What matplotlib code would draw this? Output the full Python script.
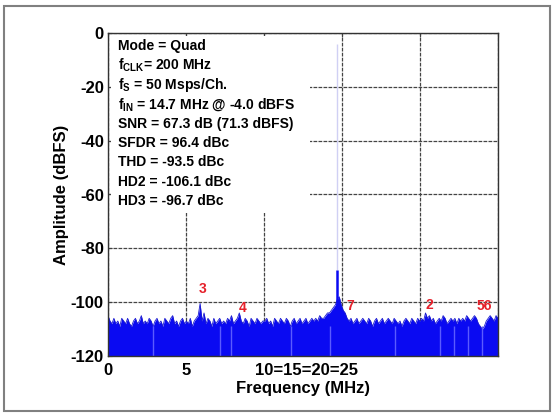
import matplotlib
matplotlib.use('Agg')
import matplotlib.pyplot as plt
import numpy as np
from matplotlib.patches import Rectangle

plt.rcParams['font.family'] = ['Liberation Sans', 'DejaVu Sans']
plt.rcParams['font.weight'] = 'bold'
plt.rcParams['axes.unicode_minus'] = False
plt.rcParams['mathtext.fontset'] = 'custom'
plt.rcParams['mathtext.rm'] = 'Liberation Sans:bold'
plt.rcParams['mathtext.bf'] = 'Liberation Sans:bold'

# noise floor top (dBFS), one value per 0.125 MHz bin
noise_top = [
    -105, -107, -108, -106, -108, -107, -109, -106, -107, -108, -106, -108, -109, -107, -106, -108, -107, -105, -108, -107,
    -108, -106, -107, -109, -107, -106, -108, -107, -109, -106, -107, -108, -106, -105, -108, -107, -109, -107, -106, -108,
    -107, -108, -106, -109, -107, -106, -105, -100.5, -107, -104, -108, -106, -107, -109, -106, -108, -107, -106, -108, -107,
    -108, -106, -107, -105, -108, -107, -106, -104, -107, -108, -106, -107, -109, -106, -107, -108, -106, -107, -108, -107,
    -107, -106, -108, -107, -109, -106, -107, -108, -106, -107, -108, -106, -107, -109, -107, -106, -108, -107, -106, -108,
    -107, -106, -108, -107, -106, -107, -106, -107, -105, -106, -106, -105, -104, -104, -103, -102, -101, -99, -98, -101,
    -103, -104, -106, -107, -106, -108, -107, -106, -108, -107, -106, -107, -108, -106, -107, -109, -107, -106, -108, -107,
    -106, -108, -107, -106, -107, -108, -106, -107, -108, -107, -109, -107, -106, -107, -108, -106, -107, -108, -106, -107,
    -106, -107, -104, -106, -105, -107, -106, -108, -107, -106, -107, -105, -106, -108, -107, -106, -107, -106, -108, -106,
    -107, -106, -107, -105, -106, -107, -106, -105, -106, -108, -109, -110, -109, -107, -106, -105, -106, -107, -105, -106,
]
dip_freqs = [2.9, 7.2, 7.9, 11.7, 14.2, 18.4, 21.3, 22.2, 23.1, 24.0]
dip_level = -109

fund_freq = 14.7
fund_skirt = -88
fund_level = -4

spur_labels = ['3', '4', '7', '2', '56']
spur_x = [6.05, 8.65, 15.5, 20.6, 24.15]
spur_y = [-97.8, -104.8, -104.0, -103.6, -104.0]

info_lines = [
    'Mode = Quad',
    r'f$_{\rm CLK}$= 200 MHz',
    r'f$_{\rm S}$ = 50 Msps/Ch.',
    r'f$_{\rm IN}$ = 14.7 MHz @ -4.0 dBFS',
    'SNR = 67.3 dB (71.3 dBFS)',
    'SFDR = 96.4 dBc',
    'THD = -93.5 dBc',
    'HD2 = -106.1 dBc',
    'HD3 = -96.7 dBc',
]

y_ticks = [0, -20, -40, -60, -80, -100, -120]
x_ticks = [0, 5, 10, 15, 20, 25]
x_ticklabels = ['0', '5', '', '', '', '']

fig = plt.figure(figsize=(5.53, 4.15), dpi=100)
ax = fig.add_axes([108 / 553, 59 / 415, 390 / 553, 323 / 415])

freqs = np.linspace(0, 25, len(noise_top))
blue = '#0a0af2'
ax.fill_between(freqs, -120, noise_top, color=blue, lw=0, zorder=2)
ax.plot(freqs, noise_top, color='#1a1ad0', lw=0.6, zorder=2.05)
ax.vlines(dip_freqs, -120, dip_level, color='#5a5aff', lw=1.0, zorder=2.1)
ax.vlines([fund_freq], fund_skirt, fund_level, color='#d0d0f4', lw=1.0, zorder=1.5)
ax.vlines([fund_freq], -120, fund_skirt, color=blue, lw=1.8, zorder=2.2)

for lab, x, y in zip(spur_labels, spur_x, spur_y):
    ax.text(x, y, lab, color='#e5202a', fontsize=10, fontweight='bold',
            ha='center', va='bottom', zorder=4)

ax.set_xlim(0, 25)
ax.set_ylim(-120, 0)
ax.set_xticks(x_ticks)
ax.set_xticklabels(x_ticklabels)
ax.set_yticks(y_ticks)
ax.tick_params(direction='in', length=3, labelsize=12, width=0.8, color='#404040')
ax.tick_params(axis='y', pad=3)
ax.tick_params(axis='x', top=True, pad=5)
for lbl in ax.get_xticklabels() + ax.get_yticklabels():
    lbl.set_fontweight('bold')
ax.grid(True, linestyle=(0, (3, 1)), color='#444444', lw=0.9)
ax.set_axisbelow(True)
for sp in ax.spines.values():
    sp.set_color('#333333')
    sp.set_linewidth(1.0)

ax.text(12.75, -122.6, '10=15=20=25', fontsize=12, fontweight='bold',
        ha='center', va='top')
ax.set_xlabel('Frequency (MHz)', fontsize=12, fontweight='bold', labelpad=2)
ax.set_ylabel('Amplitude (dBFS)', fontsize=12, fontweight='bold', labelpad=1)

# white panel behind the info text
ax.add_patch(Rectangle((0.008, 0.443), 0.51, 0.547, transform=ax.transAxes,
                       facecolor='white', edgecolor='none', zorder=1))
for i, line in enumerate(info_lines):
    ax.text(0.026, 0.960 - i * 0.0601, line, transform=ax.transAxes,
            fontsize=10, fontweight='bold', ha='left', va='center', zorder=3)

fig.add_artist(Rectangle((4 / 553, 4 / 415), 546 / 553, 405 / 415,
                         transform=fig.transFigure, fill=False,
                         edgecolor='#808080', lw=1.5))

fig.savefig('out.png', dpi=100)
